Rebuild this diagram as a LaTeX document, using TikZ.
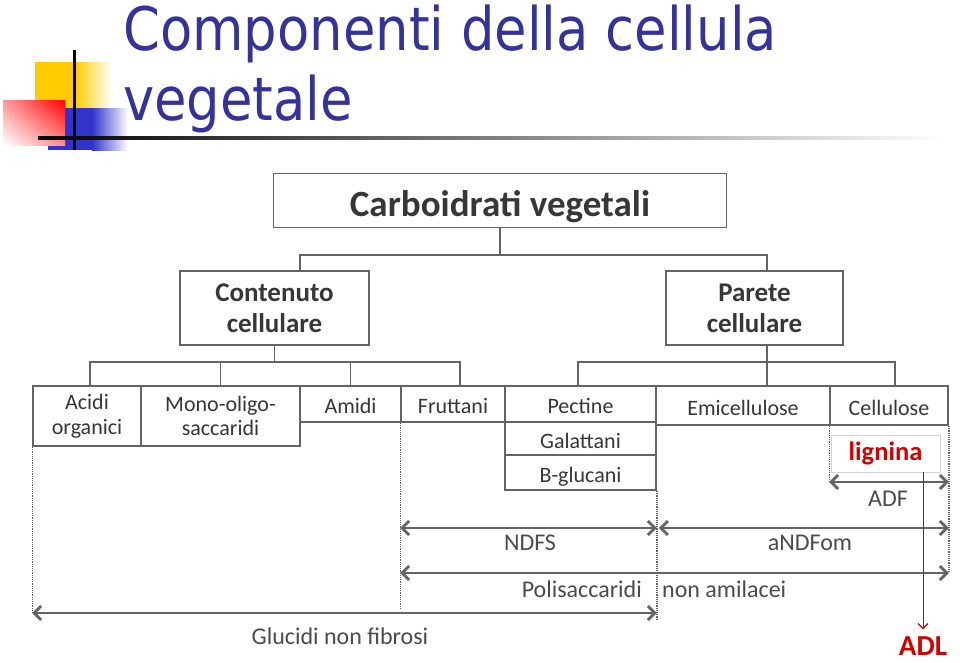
\documentclass[tikz,border=0pt]{standalone}
\usepackage{fontspec}
\usetikzlibrary{arrows.meta,calc,shadings}
\newfontfamily\calf{Carlito}
\newfontfamily\titlef[FakeStretch=0.88]{DejaVu Sans}
\newcommand\fTop{\calf\bfseries\fontsize{37}{40}\selectfont}
\newcommand\fMid{\calf\bfseries\fontsize{27}{31}\selectfont}
\newcommand\fLow{\calf\fontsize{22}{24.5}\selectfont}
\newcommand\fLab{\calf\fontsize{24}{26}\selectfont}
\definecolor{titleblue}{RGB}{51,51,153}
\definecolor{lineg}{RGB}{100,100,100}
\definecolor{txtg}{RGB}{55,55,55}
\definecolor{lblg}{RGB}{75,75,75}
\definecolor{redc}{RGB}{210,0,0}
\definecolor{yel}{RGB}{255,204,0}
\definecolor{blu}{RGB}{51,51,204}
\definecolor{lig}{RGB}{210,210,210}
\tikzset{
  box/.style={draw=lineg, line width=1.8pt, inner sep=0pt, align=center, text=txtg},
  one/.style={text height=19pt, text depth=0pt},
  tree/.style={draw=lineg, line width=1.8pt},
  dimarrow/.style={draw=lineg, line width=2.8pt,
    {Straight Barb[length=7pt,width=14pt,line width=2.8pt]}-{Straight Barb[length=7pt,width=14pt,line width=2.8pt]}},
  dots/.style={draw=lineg, line width=1.2pt, densely dotted},
  lbl/.style={text=lblg, font=\fLab, inner sep=0pt},
  ttl/.style={text=titleblue, font=\titlef\fontsize{60}{68}\selectfont, inner sep=0pt, anchor=base west}
}
\begin{document}
\begin{tikzpicture}[x=1pt,y=-1pt]
\useasboundingbox[fill=white] (0,0) rectangle (960,662);
% decoration
\fill[yel] (35,62) rectangle (75,140);
\shade[left color=yel, right color=white] (75,62) rectangle (112,140);
\fill[blu] (48,108) rectangle (92,150);
\shade[left color=blu, right color=white] (92,108) rectangle (128,150);
\shade[upper right=red, upper left=red!40, lower left=white, lower right=red!45] (3,100) rectangle (65,145);
\fill[black] (73,50) rectangle (76,150);
\shade[left color=black, middle color=black!65, right color=white] (38,136.5) rectangle (945,139.5);
% title
\node[ttl] (t1) at (123,50) {Componenti della cellula};
\node[ttl] (t2) at (123,120) {vegetale};
% boxes
\node[box, font=\fTop, minimum width=453, minimum height=54, text height=32pt, text depth=0pt] (top) at (500,200.5) {Carboidrati vegetali};
\node[box, font=\fMid, minimum width=189, minimum height=74] (cont) at (274.5,308) {Contenuto\\cellulare};
\node[box, font=\fMid, minimum width=177, minimum height=74] (par) at (754.5,308) {Parete\\cellulare};
\node[box, font=\fLow, minimum width=108, minimum height=60] (acidi) at (87,416) {Acidi\\organici};
\node[box, font=\fLow, minimum width=159, minimum height=60] (mono) at (220.5,416) {Mono-oligo-\\saccaridi};
\node[box, one, font=\fLow, minimum width=101, minimum height=36] (amidi) at (350.5,404) {Amidi};
\node[box, one, font=\fLow, minimum width=104, minimum height=36] (frutt) at (453,404) {Fruttani};
\node[box, one, font=\fLow, minimum width=151, minimum height=36] (pect) at (580.5,404) {Pectine};
\node[box, one, font=\fLow, minimum width=151, minimum height=33] (gal) at (580.5,438.5) {Galattani};
\node[box, one, font=\fLow, minimum width=151, minimum height=35] (bglu) at (580.5,472.5) {B-glucani};
\node[box, one, font=\fLow, minimum width=174, minimum height=39] (emi) at (743,405.5) {Emicellulose};
\node[box, one, font=\fLow, minimum width=118, minimum height=39] (cell) at (889,405.5) {Cellulose};
% tree connectors
\coordinate (tbar) at (0,255);
\coordinate (cbar) at (0,362);
\coordinate (pbar) at (0,362);
\draw[tree] (top.south) -- (top.south |- tbar);
\draw[tree] ([xshift=25.5pt]cont.north) -- ([xshift=25.5pt]cont.north |- tbar) -- ([xshift=12.5pt]par.north |- tbar) -- ([xshift=12.5pt]par.north);
\draw[tree] (cont.south) -- (cont.south |- cbar);
\draw[tree] ([xshift=3pt]acidi.north) -- ([xshift=3pt]acidi.north |- cbar) -- ([xshift=7pt]frutt.north |- cbar) -- ([xshift=7pt]frutt.north);
\draw[tree] (mono.north) -- (mono.north |- cbar);
\draw[tree] (amidi.north) -- (amidi.north |- cbar);
\draw[tree] ([xshift=-2.5pt]pect.north) -- ([xshift=-2.5pt]pect.north |- pbar) -- ([xshift=6pt]cell.north |- pbar) -- ([xshift=6pt]cell.north);
\draw[tree] ([xshift=12.5pt]par.south) -- ([xshift=24pt]emi.north);
% lignina
\node[draw=lig, line width=0.8pt, minimum width=109, minimum height=37, inner sep=0pt,
      text=redc, font=\calf\bfseries\fontsize{26.5}{28}\selectfont] (lign) at (885.5,453.5) {lignina};
% dimension levels
\coordinate (yADF) at (0,482);
\coordinate (yN) at (0,528);
\coordinate (yP) at (0,573);
\coordinate (yG) at (0,613);
% dotted guides
\draw[dots] (acidi.south west) -- (acidi.south west |- yG);
\draw[dots] (frutt.south west) -- ([yshift=-36pt]frutt.south west |- yP);
\draw[dots] (bglu.south east) -- ([yshift=-6pt]bglu.south east |- yG);
\draw[dots] (cell.south west) -- (cell.south west |- yADF);
\draw[dots] (cell.south east) -- (cell.south east |- yP);
% dimension arrows
\draw[dimarrow] (cell.south west |- yADF) -- (cell.south east |- yADF);
\draw[dimarrow] (frutt.south west |- yN) -- (bglu.south east |- yN);
\draw[dimarrow] ([xshift=2pt]bglu.south east |- yN) -- (cell.south east |- yN);
\draw[dimarrow] (frutt.south west |- yP) -- (cell.south east |- yP);
\draw[dimarrow] (acidi.south west |- yG) -- (bglu.south east |- yG);
% labels
\node[lbl] (ladf) at (888,499) {ADF};
\node[lbl] (lndfs) at (530,543) {NDFS};
\node[lbl] (landf) at (810,543) {aNDFom};
\node[lbl, anchor=east] (lpol) at (642,589) {Polisaccaridi};
\node[lbl, anchor=west] (lnon) at (662,589) {non amilacei};
\node[lbl] (lglu) at (340,636) {Glucidi non fibrosi};
% ADL
\node[text=redc, font=\calf\bfseries\fontsize{29}{31}\selectfont, inner sep=1pt] (adl) at (923,646) {ADL};
\draw[redc, line width=1pt, -{Straight Barb[length=5pt,width=10pt,line width=1.2pt]}] (lign.south -| adl.north) -- ([yshift=6pt]adl.north);
\end{tikzpicture}
\end{document}
